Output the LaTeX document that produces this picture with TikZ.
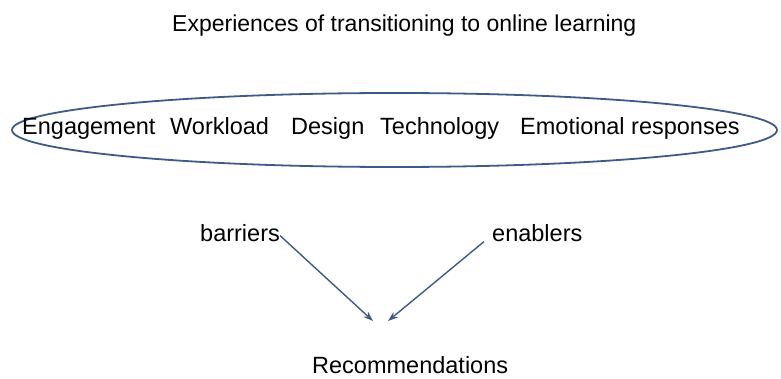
\documentclass[tikz,border=0pt]{standalone}
\usepackage{fontspec}
\setmainfont{Liberation Sans}
\usepackage{xcolor}
\usetikzlibrary{shapes.geometric, arrows.meta, positioning}

\definecolor{linkblue}{HTML}{3D5B86}

\tikzset{
    word/.style = {anchor=base west, inner sep=0pt, font=\fontsize{23.5}{27}\selectfont},
    link/.style = {-{Stealth[length=10pt, width=7pt]}, draw=linkblue, line width=1.4pt}
}

\begin{document}
\begin{tikzpicture}[x=1pt, y=1pt]
    \useasboundingbox (0,0) rectangle (781,378);
    \node (title) [word, font=\fontsize{23}{27}\selectfont] at (172,346) {Experiences of transitioning to online learning};
    \node (themes) [ellipse, draw=linkblue, line width=1.8pt, minimum width=765pt,
        minimum height=74pt, inner sep=0pt] at (394.5,248) {};
    \node (eng) [word] at (22,243) {Engagement};
    \node (work) [word] at (170,243) {Workload};
    \node (design) [word] at (291,243) {Design};
    \node (tech) [word] at (380,243) {Technology};
    \node (emo) [word] at (520,243) {Emotional responses};
    \node (barriers) [word] at (200,137) {barriers};
    \node (enablers) [word] at (492,137) {enablers};
    \node (recs) [word] at (312,5) {Recommendations};
    \coordinate (tipl) at (373,57);
    \coordinate (tipr) at (388,57);
    \draw [link] ([yshift=-3pt]barriers.east) -- (tipl);
    \draw [link] ([xshift=-8pt, yshift=-9pt]enablers.west) -- (tipr);
\end{tikzpicture}
\end{document}
